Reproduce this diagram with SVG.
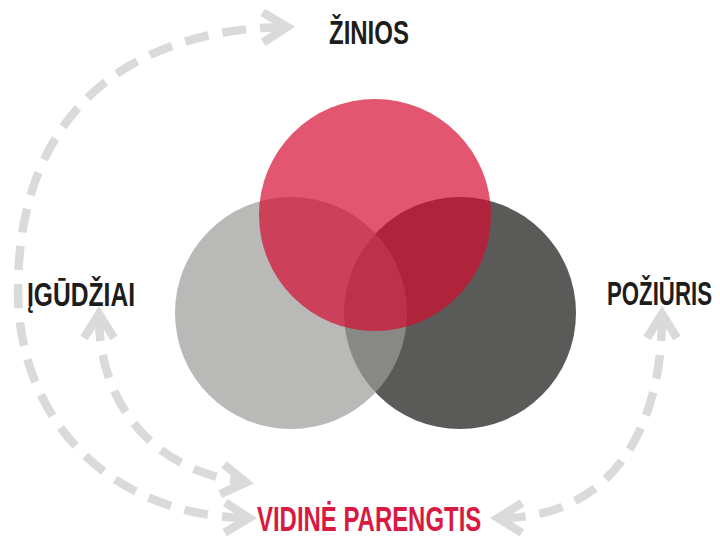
<svg xmlns="http://www.w3.org/2000/svg" width="720" height="539" viewBox="0 0 720 539">
<style>
.lbl{font-family:"Liberation Sans",Arial,sans-serif;font-weight:bold;fill:#1d1d1b;font-size:33px}
.red{fill:#d81a42;font-size:35px}
.con{fill:none;stroke:#dadada;stroke-width:8.5;stroke-dasharray:24 14;marker-start:url(#chev);marker-end:url(#chev)}
</style>
<defs>
<marker id="chev" markerUnits="userSpaceOnUse" orient="auto-start-reverse" markerWidth="40" markerHeight="40" viewBox="-30 -20 40 40" refX="-3" refY="0" overflow="visible">
<path d="M-24,-15 L0,0 L-24,15" fill="none" stroke="#dadada" stroke-width="8.5" stroke-dasharray="none" stroke-linejoin="miter"/>
</marker>
</defs>
<rect width="720" height="539" fill="#ffffff"/>
<g id="venn">
<circle id="circle-poziuris" cx="460" cy="313" r="116" fill="#5a5a59"/>
<circle id="circle-igudziai" cx="291" cy="313" r="116" fill="#9b9b9a" fill-opacity="0.7"/>
<circle id="circle-zinios" cx="375" cy="215" r="116" fill="#d50a2e" fill-opacity="0.69"/>
</g>
<g id="connectors">
<path id="arc-outer" class="con" d="M284,27 C120,30 18,120 18,290 C18,420 110,515 246,518"/>
<path id="arc-inner" class="con" d="M99,317 C99,400 150,470 243,482"/>
<path id="arc-right" class="con" d="M662,317 C662,430 610,518 501,518"/>
</g>
<g id="node-zinios"><text class="lbl" transform="translate(329,44) scale(0.727,1)">ŽINIOS</text></g>
<g id="node-igudziai"><text class="lbl" transform="translate(27,306) scale(0.746,1)">ĮGŪDŽIAI</text></g>
<g id="node-poziuris"><text class="lbl" transform="translate(607,305) scale(0.674,1)">POŽIŪRIS</text></g>
<g id="node-vidine-parengtis"><text class="lbl red" transform="translate(257,531) scale(0.684,1)">VIDINĖ PARENGTIS</text></g>
</svg>
